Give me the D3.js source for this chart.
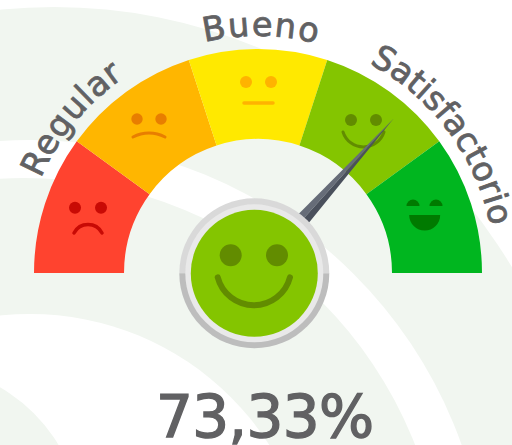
<!DOCTYPE html>
<html>
<head>
<meta charset="utf-8">
<script src="https://d3js.org/d3.v7.min.js"></script>
<style>
  html, body { margin: 0; padding: 0; background: #fff; }
  svg { display: block; }
  text { font-family: "DejaVu Sans", sans-serif; fill: #616163; stroke: #616163; }
</style>
</head>
<body>
<div id="gauge"></div>
<script>
// gauge data
var categories = ['Malo', 'Regular', 'Bueno', 'Satisfactorio', 'Excelente'];
var thresholds = [0, 20, 40, 60, 80, 100];
var labelNames = ['Regular', 'Bueno', 'Satisfactorio'];
var labelFrom = [23.5, 77, 118];
var labelTo = [55.5, 104.3, 168.6];
var gaugeValue = 73.33;
var valueLabel = '73,33%';

var width = 512, height = 445;
var cx = 258, cy = 273;
var outerR = 224, innerR = 134;
var bgFill = '#f1f6f0';

var colors = ['#ff432f', '#ffb600', '#ffe900', '#84c500', '#00b61f'];
var faceColors = ['#c80a05', '#e87e00', '#ffb300', '#628c00', '#007a00'];

var svg = d3.select('#gauge').append('svg')
    .attr('width', width)
    .attr('height', height);

// background rings
var rings = [
    {x: 54, y: 540, r: 533, fill: bgFill},
    {x: 30, y: 598, r: 458, fill: '#fff'},
    {x: 24, y: 598, r: 420, fill: bgFill},
    {x: 30, y: 598, r: 284, fill: '#fff'},
    {x: -80, y: 527, r: 161, fill: bgFill}
];
svg.selectAll('circle.ring')
    .data(rings)
    .enter()
    .append('circle')
    .attr('class', 'ring')
    .attr('cx', d => d.x)
    .attr('cy', d => d.y)
    .attr('r', d => d.r)
    .attr('fill', d => d.fill);

var angle = d3.scaleLinear().domain([0, 100]).range([-Math.PI / 2, Math.PI / 2]);

var chart = svg.append('g')
    .attr('transform', `translate(${cx}, ${cy})`);

// coloured segments
var arc = d3.arc().innerRadius(innerR).outerRadius(outerR);
var segments = categories.map((c, i) => ({
    name: c,
    startAngle: angle(thresholds[i]),
    endAngle: angle(thresholds[i + 1])
}));

chart.selectAll('path.segment')
    .data(segments)
    .enter()
    .append('path')
    .attr('class', 'segment')
    .attr('d', arc)
    .attr('fill', (d, i) => colors[i]);

// mouth helper, sag > 0 smiles, sag < 0 frowns
function mouth(x1, x2, y, sag) {
    var half = (x2 - x1) / 2;
    var s = Math.abs(sag);
    var r = (half * half + s * s) / (2 * s);
    return `M${x1},${y}A${r},${r} 0 0 ${sag > 0 ? 0 : 1} ${x2},${y}`;
}

var faceR = 180;
var faces = chart.selectAll('g.face')
    .data(segments)
    .enter()
    .append('g')
    .attr('class', 'face')
    .attr('transform', d => {
        var a = (d.startAngle + d.endAngle) / 2;
        return `translate(${faceR * Math.sin(a)}, ${-faceR * Math.cos(a)})`;
    });

function eyes(g, xs, y, r, color) {
    xs.forEach(x => g.append('circle').attr('cx', x).attr('cy', y).attr('r', r).attr('fill', color));
}
function smile(g, d, color, w) {
    g.append('path').attr('d', d).attr('fill', 'none').attr('stroke', color)
        .attr('stroke-width', w).attr('stroke-linecap', 'round');
}

var f0 = d3.select(faces.nodes()[0]);
eyes(f0, [-11.8, 14.2], -9.7, 6, faceColors[0]);
smile(f0, mouth(-12.8, 15.2, 15.6, -8.5), faceColors[0], 3.5);

var f1 = d3.select(faces.nodes()[1]);
eyes(f1, [-15.2, 8.8], -8.4, 5.7, faceColors[1]);
smile(f1, mouth(-19.2, 12.8, 9.6, -4), faceColors[1], 3);

var f2 = d3.select(faces.nodes()[2]);
eyes(f2, [-12, 13], -11, 6, faceColors[2]);
smile(f2, 'M-14,10H15', faceColors[2], 3.5);

var f3 = d3.select(faces.nodes()[3]);
eyes(f3, [-12.8, 12.2], -7.4, 6, faceColors[3]);
smile(f3, mouth(-20.8, 20.2, 4.6, 15), faceColors[3], 3);

// the laughing face uses half discs
var f4 = d3.select(faces.nodes()[4]);
var halfEye = d3.arc().innerRadius(0).outerRadius(6.5).startAngle(-Math.PI / 2).endAngle(Math.PI / 2);
var halfMouth = d3.arc().innerRadius(0).outerRadius(15.5).startAngle(Math.PI / 2).endAngle(Math.PI * 1.5);
[-16.2, 6.8].forEach(x => {
    f4.append('path').attr('d', halfEye).attr('transform', `translate(${x}, -11.4)`).attr('fill', faceColors[4]);
});
f4.append('path').attr('d', halfMouth).attr('transform', 'translate(-4.5, -2.4)').attr('fill', faceColors[4]);

// curved labels, the path runs a bit past the text so the last letter is not dropped
var labelR = 237;
var defs = svg.append('defs');
labelNames.forEach((name, i) => {
    var a0 = (labelFrom[i] - 90) * Math.PI / 180;
    var a1 = (labelTo[i] - 90) * Math.PI / 180;
    var aEnd = a1 + 0.15;
    var id = 'label-' + i;
    defs.append('path')
        .attr('id', id)
        .attr('d', `M${cx + labelR * Math.sin(a0)},${cy - labelR * Math.cos(a0)}A${labelR},${labelR} 0 0 1 ${cx + labelR * Math.sin(aEnd)},${cy - labelR * Math.cos(aEnd)}`);
    svg.append('text')
        .attr('font-size', 33.5)
        .attr('stroke-width', 0.8)
        .append('textPath')
        .attr('href', '#' + id)
        .attr('textLength', labelR * (a1 - a0))
        .text(name);
});

// needle, pivot is the knob centre
var knobX = 254.3, knobY = 273.3;
var needle = svg.append('g')
    .attr('transform', `translate(${knobX}, ${knobY}) rotate(${angle(gaugeValue) * 180 / Math.PI})`);
var needleLen = 208;
needle.append('path').attr('d', `M0,${-needleLen}L-7,-68L0,-68Z`).attr('fill', '#666c78');
needle.append('path').attr('d', `M0,${-needleLen}L7,-68L0,-68Z`).attr('fill', '#4a505c');

// knob
var knob = svg.append('g').attr('transform', `translate(${knobX}, ${knobY})`);
var ringArc = d3.arc().innerRadius(0).outerRadius(75);
knob.append('path')
    .attr('d', ringArc({startAngle: -Math.PI / 2, endAngle: Math.PI / 2}))
    .attr('fill', '#d9d9d9');
knob.append('path')
    .attr('d', ringArc({startAngle: Math.PI / 2, endAngle: Math.PI * 1.5}))
    .attr('fill', '#bdbdbd');
knob.append('circle').attr('r', 69).attr('fill', '#e9e9e9');
knob.append('circle').attr('r', 63.5).attr('fill', colors[3]);
eyes(knob, [-23.6, 22.7], -18, 11, faceColors[3]);
smile(knob, mouth(-36.6, 35.7, 4, 28), faceColors[3], 6);

// value text
svg.append('text')
    .attr('x', 156)
    .attr('y', 436.5)
    .attr('font-size', 58)
    .attr('stroke-width', 1.4)
    .attr('letter-spacing', -0.6)
    .text(valueLabel);
</script>
</body>
</html>
